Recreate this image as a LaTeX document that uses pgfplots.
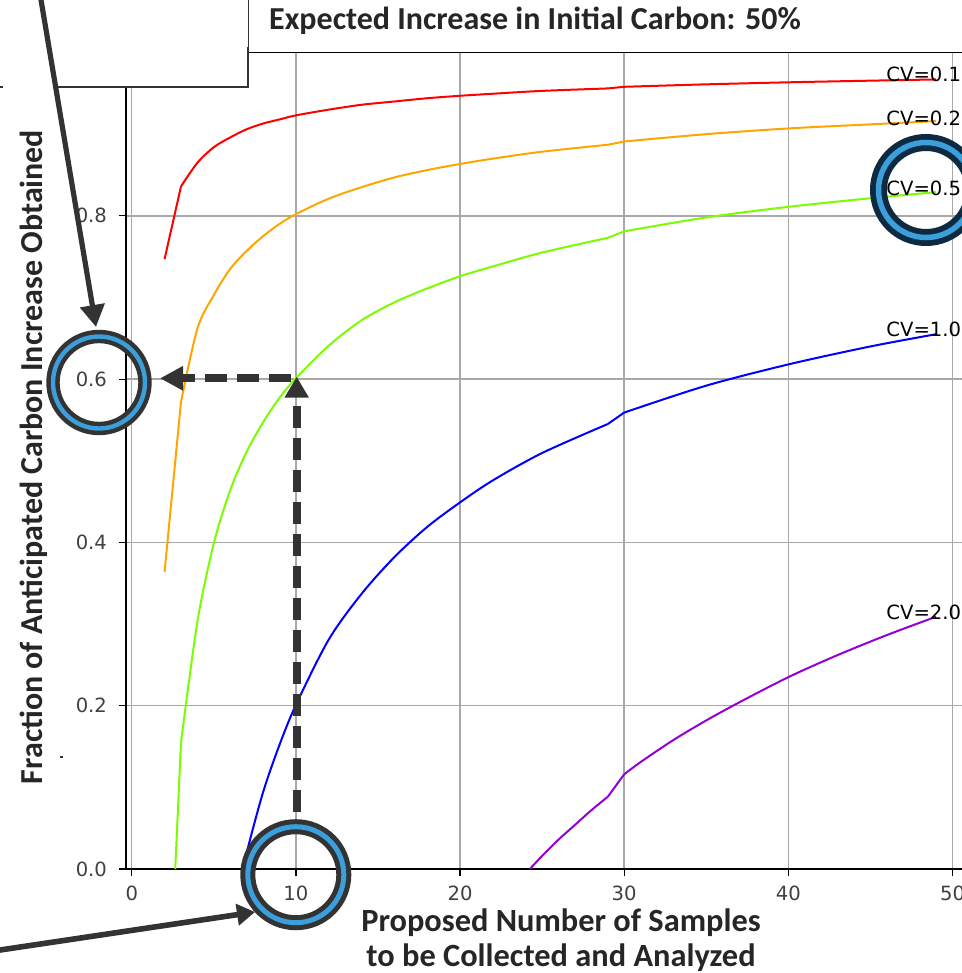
\documentclass[border=0pt]{standalone}
\usepackage{pgfplots}
\pgfplotsset{compat=1.18}
\usetikzlibrary{arrows.meta}
\usepackage{fontspec}
\setmainfont{Carlito}
\newfontfamily\dejavu{DejaVu Sans}
\definecolor{cvred}{HTML}{FF0000}
\definecolor{cvorange}{HTML}{FFA500}
\definecolor{cvgreen}{HTML}{7CFC00}
\definecolor{cvblue}{HTML}{0000FF}
\definecolor{cvpurple}{HTML}{9400D3}
\definecolor{gridgray}{HTML}{A8A8A8}
\definecolor{dark}{HTML}{333333}
\definecolor{navy}{HTML}{0E2A40}
\definecolor{ringblue}{HTML}{3A9FDB}
\definecolor{textdark}{HTML}{262626}
\begin{document}
\begin{tikzpicture}
\path[use as bounding box, clip] (0,0) rectangle (481pt,-486.5pt);
\begin{axis}[
  at={(63pt,-434.5pt)}, anchor=south west,
  scale only axis, width=424.33pt, height=408.25pt,
  xmin=-0.35, xmax=51.35, ymin=0, ymax=1,
  xtick={0,10,20,30,40,50}, ytick={0,0.2,0.4,0.6,0.8,1.0},
  grid=major, major grid style={color=gridgray, line width=0.75pt},
  axis line style={black, line width=0.6pt},
  tick align=outside, major tick length=3.5pt,
  tick style={black, line width=0.6pt},
  xtick pos=left, ytick pos=left,
  /pgf/number format/assume math mode=true,
  ticklabel style={font=\dejavu\fontsize{9.8}{11}\selectfont, text=black!75},
  yticklabel style={xshift=-2.5pt, /pgf/number format/fixed, /pgf/number format/fixed zerofill, /pgf/number format/precision=1},
  xticklabel style={yshift=-1.5pt, /pgf/number format/fixed},
  every axis plot/.append style={line width=1pt, line join=round},
]
% CV = 0.1
\addplot[cvred] coordinates {(2,0.747)(3,0.836)};
\addplot[cvred, smooth] coordinates {(3,0.836)(4,0.865)(5,0.884)(6,0.896)(7,0.906)(8,0.913)(9,0.918)(10,0.923)(12,0.930)(14,0.936)(16,0.940)(18,0.944)(20,0.947)(22,0.9495)(25,0.953)(29,0.956)};
\addplot[cvred] coordinates {(29,0.956)(30,0.958)};
\addplot[cvred, smooth] coordinates {(30,0.958)(35,0.961)(40,0.9635)(45,0.9655)(49,0.967)};
% CV = 0.2
\addplot[cvorange] coordinates {(2,0.364)(3,0.572)};
\addplot[cvorange, smooth] coordinates {(3,0.572)(4,0.662)(5,0.703)(6,0.735)(7,0.757)(8,0.775)(9,0.790)(10,0.802)(12,0.821)(14,0.835)(16,0.847)(18,0.856)(20,0.8635)(22,0.870)(25,0.8785)(29,0.887)};
\addplot[cvorange] coordinates {(29,0.887)(30,0.891)};
\addplot[cvorange, smooth] coordinates {(30,0.891)(35,0.900)(40,0.907)(45,0.912)(49,0.916)};
% CV = 0.5
\addplot[cvgreen] coordinates {(2.65,0)(3,0.155)};
\addplot[cvgreen, smooth] coordinates {(3,0.155)(4,0.303)(5,0.399)(6,0.464)(7,0.511)(8,0.547)(9,0.577)(10,0.601)(12,0.641)(14,0.672)(16,0.694)(18,0.711)(20,0.726)(22,0.738)(25,0.755)(29,0.773)};
\addplot[cvgreen] coordinates {(29,0.773)(30,0.781)};
\addplot[cvgreen, smooth] coordinates {(30,0.781)(35,0.798)(40,0.811)(45,0.8215)(49,0.829)};
% CV = 1.0
\addplot[cvblue, smooth] coordinates {(6.82,0)(7,0.02)(8,0.094)(9,0.152)(10,0.201)(12,0.281)(14,0.337)(16,0.382)(18,0.419)(20,0.449)(22,0.476)(25,0.5095)(29,0.545)};
\addplot[cvblue] coordinates {(29,0.545)(30,0.559)};
\addplot[cvblue, smooth] coordinates {(30,0.559)(35,0.592)(40,0.618)(45,0.640)(49,0.655)};
% CV = 2.0
\addplot[cvpurple, smooth] coordinates {(24.25,0)(25,0.016)(26,0.036)(27,0.054)(28,0.072)(29,0.0885)};
\addplot[cvpurple] coordinates {(29,0.0885)(30,0.116)};
\addplot[cvpurple, smooth] coordinates {(30,0.116)(31,0.131)(33,0.158)(35,0.182)(37,0.204)(40,0.235)(43,0.262)(46,0.2865)(49,0.309)};
\node[anchor=base west, inner sep=0pt, font=\dejavu\fontsize{9.8}{11}\selectfont, text=black] at (axis cs:45.95,0.964) {CV=0.1};
\node[anchor=base west, inner sep=0pt, font=\dejavu\fontsize{9.8}{11}\selectfont, text=black] at (axis cs:45.95,0.911) {CV=0.2};
\node[anchor=base west, inner sep=0pt, font=\dejavu\fontsize{9.8}{11}\selectfont, text=black] at (axis cs:45.95,0.825) {CV=0.5};
\node[anchor=base west, inner sep=0pt, font=\dejavu\fontsize{9.8}{11}\selectfont, text=black] at (axis cs:45.95,0.652) {CV=1.0};
\node[anchor=base west, inner sep=0pt, font=\dejavu\fontsize{9.8}{11}\selectfont, text=black] at (axis cs:45.95,0.305) {CV=2.0};
\end{axis}
\begin{scope}[x=0.5pt, y=-0.5pt]
  % title box
  \fill[white] (248,-20) rectangle (1000,51.6);
  \draw[dark, line width=0.6pt] (248,-5) -- (248,48);
  % text box
  \fill[white] (-10,-10) rectangle (248,87);
  \draw[dark, line width=1.4pt] (57,87) -- (248,87) -- (248,47);
  \fill[dark] (0,86) rectangle (3,88.5);
  \fill[dark] (59.5,755.5) rectangle (63,758);
  % titles
  \node[font=\bfseries\fontsize{16}{18}\selectfont, text=textdark] at (535,21) {Expected Increase in Initial Carbon: 50\%};
  \node[rotate=90, anchor=base, font=\bfseries\fontsize{16}{18}\selectfont, text=textdark] at (42,457) {Fraction of Anticipated Carbon Increase Obtained};
  \node[anchor=base, font=\bfseries\fontsize{16.2}{18}\selectfont, text=textdark] at (561,931) {Proposed Number of Samples};
  \node[anchor=base, font=\bfseries\fontsize{16.2}{18}\selectfont, text=textdark] at (561,966) {to be Collected and Analyzed};
  % dashed arrows
  \draw[dark, line width=4pt, dash pattern=on 11pt off 5pt, -{Triangle[length=10.5pt,width=11.5pt]}] (296.7,811.7) -- (296.7,376.7);
  \draw[dark, line width=4pt, dash pattern=on 11pt off 5pt, -{Triangle[length=11.5pt,width=11.5pt]}] (291,378.3) -- (160,378.3);
  % solid arrows
  \draw[dark, line width=2.6pt, -{Triangle[length=11pt,width=12pt]}] (38.5,-15) -- (96,327);
  \draw[dark, line width=2.8pt, -{Triangle[length=9pt,width=10.5pt]}] (-10,951.5) -- (255,912);
  % circles
  \draw[dark, line width=6.7pt] (99,382.5) circle (23pt);
  \draw[ringblue, line width=2.2pt] (99,382.5) circle (23pt);
  \draw[dark, line width=7.5pt] (295.8,874.7) circle (24pt);
  \draw[ringblue, line width=2.5pt] (295.8,874.7) circle (24pt);
  \draw[navy, line width=8.5pt] (926,190) circle (23.75pt);
  \draw[ringblue, line width=2.75pt] (926,190) circle (23.75pt);
\end{scope}
\end{tikzpicture}
\end{document}
